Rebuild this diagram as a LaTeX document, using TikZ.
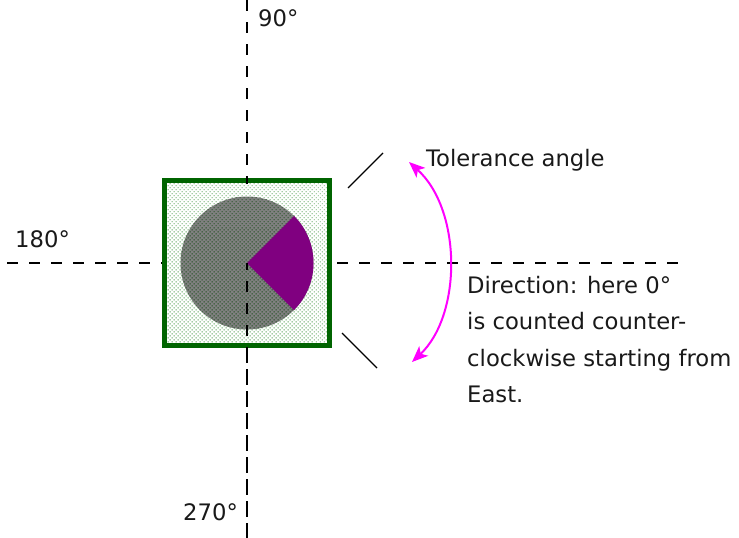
\documentclass[tikz,border=0pt]{standalone}
\usepackage{fontspec}
\setmainfont{DejaVu Sans}
\usetikzlibrary{patterns.meta,arrows.meta}
\definecolor{sqgreen}{HTML}{006400}
\definecolor{dotgreen}{HTML}{2E8B2E}
\definecolor{sectorpurple}{HTML}{800080}
\definecolor{arrmagenta}{HTML}{FF00FF}
\begin{document}
\begin{tikzpicture}[x=1pt,y=-1pt,
  axis/.style={line width=2.5pt, dash pattern=on 11pt off 11pt},
  lbl/.style={anchor=base west, inner sep=0pt, font=\fontsize{22.7}{36.5}\selectfont, text=black!90},
  tol/.style={line width=1.2pt},
  arr/.style={draw=arrmagenta, line width=2pt, {Stealth[length=16pt,width=13pt,inset=4pt]}-{Stealth[length=16pt,width=13pt,inset=4pt]}},
  dotfill/.style={pattern={Dots[distance=2.83pt,angle=45,radius=0.6pt]}, pattern color=#1},
  sqbox/.style={draw=sqgreen, line width=5pt, minimum size=165pt, inner sep=0pt, preaction={fill=white}, dotfill=dotgreen},
  disc/.style={circle, fill=gray, minimum size=133pt, inner sep=0pt}]
\useasboundingbox (0,0) rectangle (739,538);
% axis end points
\coordinate (N) at (247,0);
\coordinate (S) at (247,538);
\coordinate (W) at (7,263);
\coordinate (E) at (680,263);
% axes (background)
\draw[axis] (N) -- (S);
\draw[axis] (W) -- (E);
% square and disc
\node[sqbox] (sq) at (247,262.5) {};
\node[disc] (c) at (247,263) {};
\fill[dotfill=green!25!black] (c.center) circle[radius=66.5];
\fill[sectorpurple] (c.center) -- ++(45:66.5) arc[start angle=45, end angle=-45, radius=66.5] -- cycle;
% visible parts of the vertical axis on top
\coordinate (topdash) at (247,184);
\draw[axis] (N) -- (topdash);
\draw[axis, dash phase=4pt] (c.center) -- (S);
% tolerance lines
\coordinate (t1a) at (348,188);
\coordinate (t1b) at (383,153);
\coordinate (t2a) at (342,333);
\coordinate (t2b) at (377,368);
\draw[tol] (t1a) -- (t1b);
\draw[tol] (t2a) -- (t2b);
% tolerance arrow
\coordinate (aT) at (409,162);
\coordinate (aB) at (412,362);
\draw[arr] (aT) .. controls (462,210) and (462,315) .. (aB);
% labels
\node[lbl] (l90) at (258,26.5) {90°};
\node[lbl] (l180) at (15,247.3) {180°};
\node[lbl] (l270) at (183,520) {270°};
\node[lbl] (ltol) at (426,166.5) {Tolerance angle};
\node[lbl, align=left] (ldir) at (467,402.6) {Direction: here 0°\\is counted counter-\\clockwise starting from\\East.};
\end{tikzpicture}
\end{document}
